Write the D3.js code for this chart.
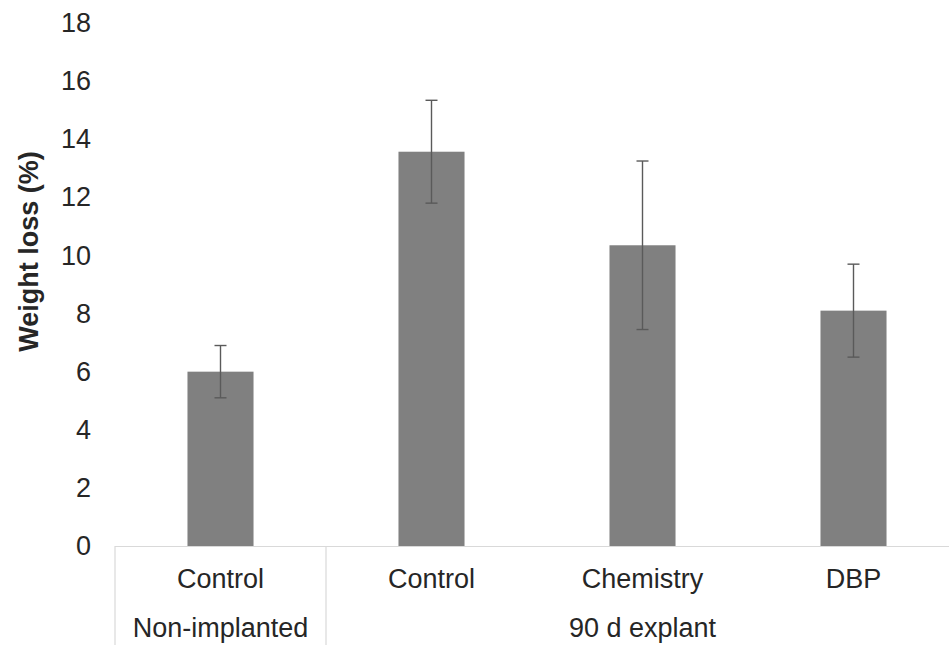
<!DOCTYPE html>
<html>
<head>
<meta charset="utf-8">
<script src="https://cdn.jsdelivr.net/npm/d3@7"></script>
<style>
  html, body { margin: 0; padding: 0; background: #fff; }
  svg { display: block; font-family: "Liberation Sans", Arial, sans-serif; }
</style>
</head>
<body>
<svg id="chart" width="949" height="646"></svg>
<script>
const categories = ["Control", "Control", "Chemistry", "DBP"];
const groups = ["Non-implanted", "90 d explant"];
const groupOf = [0, 1, 1, 1];
const values = [6.0, 13.57, 10.35, 8.1];
const errors = [0.9, 1.77, 2.9, 1.6];
const yTicks = [0, 2, 4, 6, 8, 10, 12, 14, 16, 18];
const yLabel = "Weight loss (%)";

(function () {
const svg = d3.select("#chart");
const W = 949, H = 646;
const mLeft = 115, mRight = 959, mTop = 23, mBottom = 546;
const fs = 27;

const y = d3.scaleLinear().domain([0, 18]).range([mBottom, mTop]);
const x = d3.scaleBand().domain(d3.range(categories.length)).range([mLeft, mRight]).padding(0);
const barW = x.bandwidth() * 0.313;

// y axis (labels only)
const yAxis = d3.axisLeft(y).tickValues(yTicks).tickSize(0).tickPadding(24).tickFormat(d3.format("d"));
const yg = svg.append("g").attr("transform", `translate(${mLeft},0)`).call(yAxis);
yg.select(".domain").remove();
yg.selectAll("text").attr("font-size", fs).attr("fill", "#262626").attr("font-family", "Liberation Sans, Arial, sans-serif");

// y label
svg.append("text")
  .attr("transform", `translate(38,${(mTop + mBottom) / 2 - 33}) rotate(-90)`)
  .attr("text-anchor", "middle")
  .attr("font-size", fs)
  .attr("font-weight", "bold")
  .attr("fill", "#262626")
  .text(yLabel);

// bars
svg.append("g").selectAll("rect").data(values).join("rect")
  .attr("x", (d, i) => x(i) + x.bandwidth() / 2 - barW / 2)
  .attr("y", d => y(d))
  .attr("width", barW)
  .attr("height", d => y(0) - y(d))
  .attr("fill", "#808080");

// error bars
const eg = svg.append("g").attr("stroke", "#5a5a5a").attr("stroke-width", 1.4);
values.forEach((v, i) => {
  const cx = x(i) + x.bandwidth() / 2;
  eg.append("line").attr("x1", cx).attr("x2", cx).attr("y1", y(v + errors[i])).attr("y2", y(v - errors[i]));
  eg.append("line").attr("x1", cx - 6).attr("x2", cx + 6).attr("y1", y(v + errors[i])).attr("y2", y(v + errors[i]));
  eg.append("line").attr("x1", cx - 6).attr("x2", cx + 6).attr("y1", y(v - errors[i])).attr("y2", y(v - errors[i]));
});

// category axis box
const lg = svg.append("g").attr("stroke", "#d9d9d9").attr("stroke-width", 1.2);
lg.append("line").attr("x1", mLeft).attr("x2", W).attr("y1", y(0) + 0.5).attr("y2", y(0) + 0.5);
const boundaries = [x(0), x(1), mRight];
boundaries.forEach(bx => {
  lg.append("line").attr("x1", bx).attr("x2", bx).attr("y1", y(0)).attr("y2", H - 1);
});

// category labels
svg.append("g").selectAll("text").data(categories).join("text")
  .attr("x", (d, i) => x(i) + x.bandwidth() / 2)
  .attr("y", 588)
  .attr("text-anchor", "middle")
  .attr("font-size", fs)
  .attr("fill", "#262626")
  .text(d => d);

// group labels
groups.forEach((g, gi) => {
  const idx = d3.range(categories.length).filter(i => groupOf[i] === gi);
  const x0 = x(idx[0]), x1 = x(idx[idx.length - 1]) + x.bandwidth();
  svg.append("text")
    .attr("x", (x0 + x1) / 2)
    .attr("y", 637)
    .attr("text-anchor", "middle")
    .attr("font-size", fs)
    .attr("fill", "#262626")
    .text(g);
});
})();
</script>
</body>
</html>
